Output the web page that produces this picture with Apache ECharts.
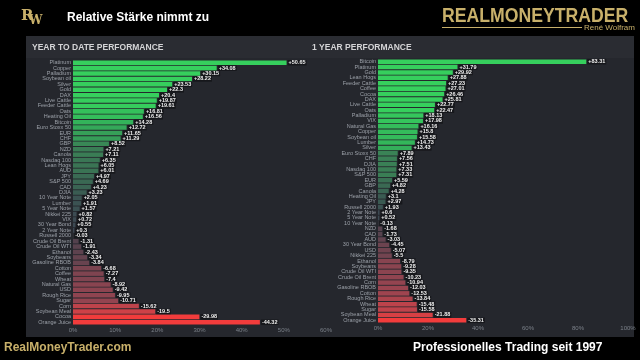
<!DOCTYPE html>
<html><head><meta charset="utf-8">
<script src="https://cdn.jsdelivr.net/npm/echarts@6/dist/echarts.min.js"></script>
<style>html,body{margin:0;padding:0;background:#000;}#c{width:640px;height:360px;}</style>
</head><body><div id="c"></div>
<script>
const ytdCategories = ['Platinum','Copper','Palladium','Soybean oil','Silver','Gold','DAX','Live Cattle','Feeder Cattle','Oats','Heating Oil','Bitcoin','Euro Stoxx 50','EUR','CHF','GBP','NZD','Canola','Nasdaq 100','Lean Hogs','AUD','JPY','S&P 500','CAD','DJIA','10 Year Note','Lumber','5 Year Note','Nikkei 225','VIX','30 Year Bond','2 Year Note','Russell 2000','Crude Oil Brent','Crude Oil WTI','Ethanol','Soybeans','Gasoline RBOB','Cotton','Coffee','Wheat','Natural Gas','USD','Rough Rice','Sugar','Corn','Soybean Meal','Cocoa','Orange Juice'];
const ytdValues = [50.65,34.08,30.15,28.22,23.53,22.3,20.4,19.87,19.61,16.81,16.56,14.28,12.72,11.65,11.29,8.52,7.21,7.11,6.35,6.05,6.01,4.97,4.69,4.23,3.23,2.05,1.91,1.57,0.82,0.72,0.55,0.3,-0.03,-1.31,-1.91,-2.43,-3.34,-3.84,-6.68,-7.27,-7.4,-8.92,-9.42,-9.95,-10.71,-15.62,-19.5,-29.98,-44.32];
const yearCategories = ['Bitcoin','Platinum','Gold','Lean Hogs','Feeder Cattle','Coffee','Cocoa','DAX','Live Cattle','Oats','Palladium','VIX','Natural Gas','Copper','Soybean oil','Lumber','Silver','Euro Stoxx 50','CHF','DJIA','Nasdaq 100','S&P 500','EUR','GBP','Canola','Heating Oil','JPY','Russell 2000','2 Year Note','5 Year Note','10 Year Note','NZD','CAD','AUD','30 Year Bond','USD','Nikkei 225','Ethanol','Soybeans','Crude Oil WTI','Crude Oil Brent','Corn','Gasoline RBOB','Cotton','Rough Rice','Wheat','Sugar','Soybean Meal','Orange Juice'];
const yearValues = [83.31,31.79,29.92,27.88,27.23,27.01,26.46,25.81,22.77,22.47,18.13,17.98,16.16,15.8,15.58,14.73,13.43,7.89,7.56,7.51,7.33,7.31,5.59,4.82,4.28,3.1,2.97,1.93,0.6,0.52,-0.13,-1.68,-1.73,-3.03,-4.45,-5.07,-5.5,-8.79,-9.28,-9.35,-10.23,-10.94,-12.03,-12.53,-13.84,-15.48,-15.58,-21.88,-35.31];
const ytdTicks = {min:0, max:60, step:10};
const yearTicks = {min:0, max:100, step:20};

function hex(c){return [parseInt(c.slice(1,3),16),parseInt(c.slice(3,5),16),parseInt(c.slice(5,7),16)];}
function mix(a,b,t){const A=hex(a),B=hex(b);return 'rgb('+A.map((x,i)=>Math.round(x+(B[i]-x)*t)).join(',')+')';}
const posStops=[[0,'#3d4552'],[3,'#3a5a52'],[8,'#3a8456'],[14,'#33b25a'],[20,'#36cf5d']];
const negStops=[[0,'#48404c'],[3,'#62434f'],[8,'#844450'],[12,'#9a4450'],[16,'#c2434a'],[30,'#f23c3c']];
function barColor(v){
  const s=v>=0?posStops:negStops, a=Math.abs(v);
  if(a>=s[s.length-1][0]) return s[s.length-1][1];
  for(let i=1;i<s.length;i++){ if(a<=s[i][0]){const t=(a-s[i-1][0])/(s[i][0]-s[i-1][0]);return mix(s[i-1][1],s[i][1],t);} }
}
function fmt(v){return (v>=0?'+':'')+v;}

function makeSeries(values, idx){
  return {
    type:'bar', xAxisIndex:idx, yAxisIndex:idx, barCategoryGap:'16%',
    data: values.map(v=>({value:Math.abs(v), itemStyle:{color:barColor(v)}})),
    label:{show:true, position:'right', distance:1, formatter:p=>fmt(values[p.dataIndex]),
      color:'#eeeeee', fontSize:5.5, fontWeight:'bold', fontFamily:'Liberation Sans, Arial',
      backgroundColor:'#16171b', padding:[0,1,0,1], lineHeight:5.5},
    animation:false
  };
}
function xAx(t, idx){
  return {type:'value', gridIndex:idx, min:t.min, max:t.max, interval:t.step,
    axisLabel:{formatter:'{value}%', color:'#7b8089', fontSize:6, margin:2, fontFamily:'Liberation Sans, Arial'},
    splitLine:{show:false}, axisLine:{show:false}, axisTick:{show:false}};
}
function yAx(cats, idx){
  return {type:'category', gridIndex:idx, data:cats, inverse:true,
    axisLabel:{color:'#9ba0a8', fontSize:5.5, lineHeight:5.5, margin:2, interval:0, fontFamily:'Liberation Sans, Arial'},
    axisLine:{show:false}, axisTick:{show:false}};
}
const gold='#c8b06a';
const chart = echarts.init(document.getElementById('c'));
chart.setOption({
  backgroundColor:'#000',
  animation:false,
  grid:[{left:73, top:60, width:253, height:265},{left:378, top:59, width:250, height:264}],
  xAxis:[xAx(ytdTicks,0), xAx(yearTicks,1)],
  yAxis:[yAx(ytdCategories,0), yAx(yearCategories,1)],
  series:[makeSeries(ytdValues,0), makeSeries(yearValues,1)],
  graphic:[
    {type:'rect', z:-10, shape:{x:26,y:36,width:608,height:301}, style:{fill:'#25272d'}},
    {type:'rect', z:-9, shape:{x:26,y:36,width:608,height:22}, style:{fill:'#2a2c32'}},
    {type:'text', x:32, y:48, style:{text:'YEAR TO DATE PERFORMANCE', fill:'#d4d4d6', font:'bold 8.5px "Liberation Sans", Arial', verticalAlign:'middle'}},
    {type:'text', x:312, y:48, style:{text:'1 YEAR PERFORMANCE', fill:'#d4d4d6', font:'bold 8.5px "Liberation Sans", Arial', verticalAlign:'middle'}},
    {type:'text', x:21, y:16, style:{text:'R', fill:gold, font:'bold 15px "DejaVu Serif"', verticalAlign:'middle'}},
    {type:'text', x:29, y:21, style:{text:'W', fill:gold, font:'bold 12px "DejaVu Serif"', verticalAlign:'middle'}},
    {type:'text', x:67, y:18, style:{text:'Relative Stärke nimmt zu', fill:'#ffffff', font:'bold 12px "Liberation Sans", Arial', verticalAlign:'middle'}},
    {type:'text', x:442, y:16, scaleX:0.84, style:{text:'REALMONEYTRADER', fill:gold, font:'bold 21px "Liberation Sans", Arial', verticalAlign:'middle'}},
    {type:'line', shape:{x1:442,y1:27.5,x2:582,y2:27.5}, style:{stroke:gold, lineWidth:1}},
    {type:'text', x:584, y:28, style:{text:'René Wolfram', fill:gold, font:'8px "Liberation Sans", Arial', verticalAlign:'middle'}},
    {type:'text', x:4, y:348, style:{text:'RealMoneyTrader.com', fill:gold, font:'bold 12px "Liberation Sans", Arial', verticalAlign:'middle'}},
    {type:'text', x:413, y:348, style:{text:'Professionelles Trading seit 1997', fill:'#ffffff', font:'bold 12px "Liberation Sans", Arial', verticalAlign:'middle'}}
  ]
});
</script></body></html>
